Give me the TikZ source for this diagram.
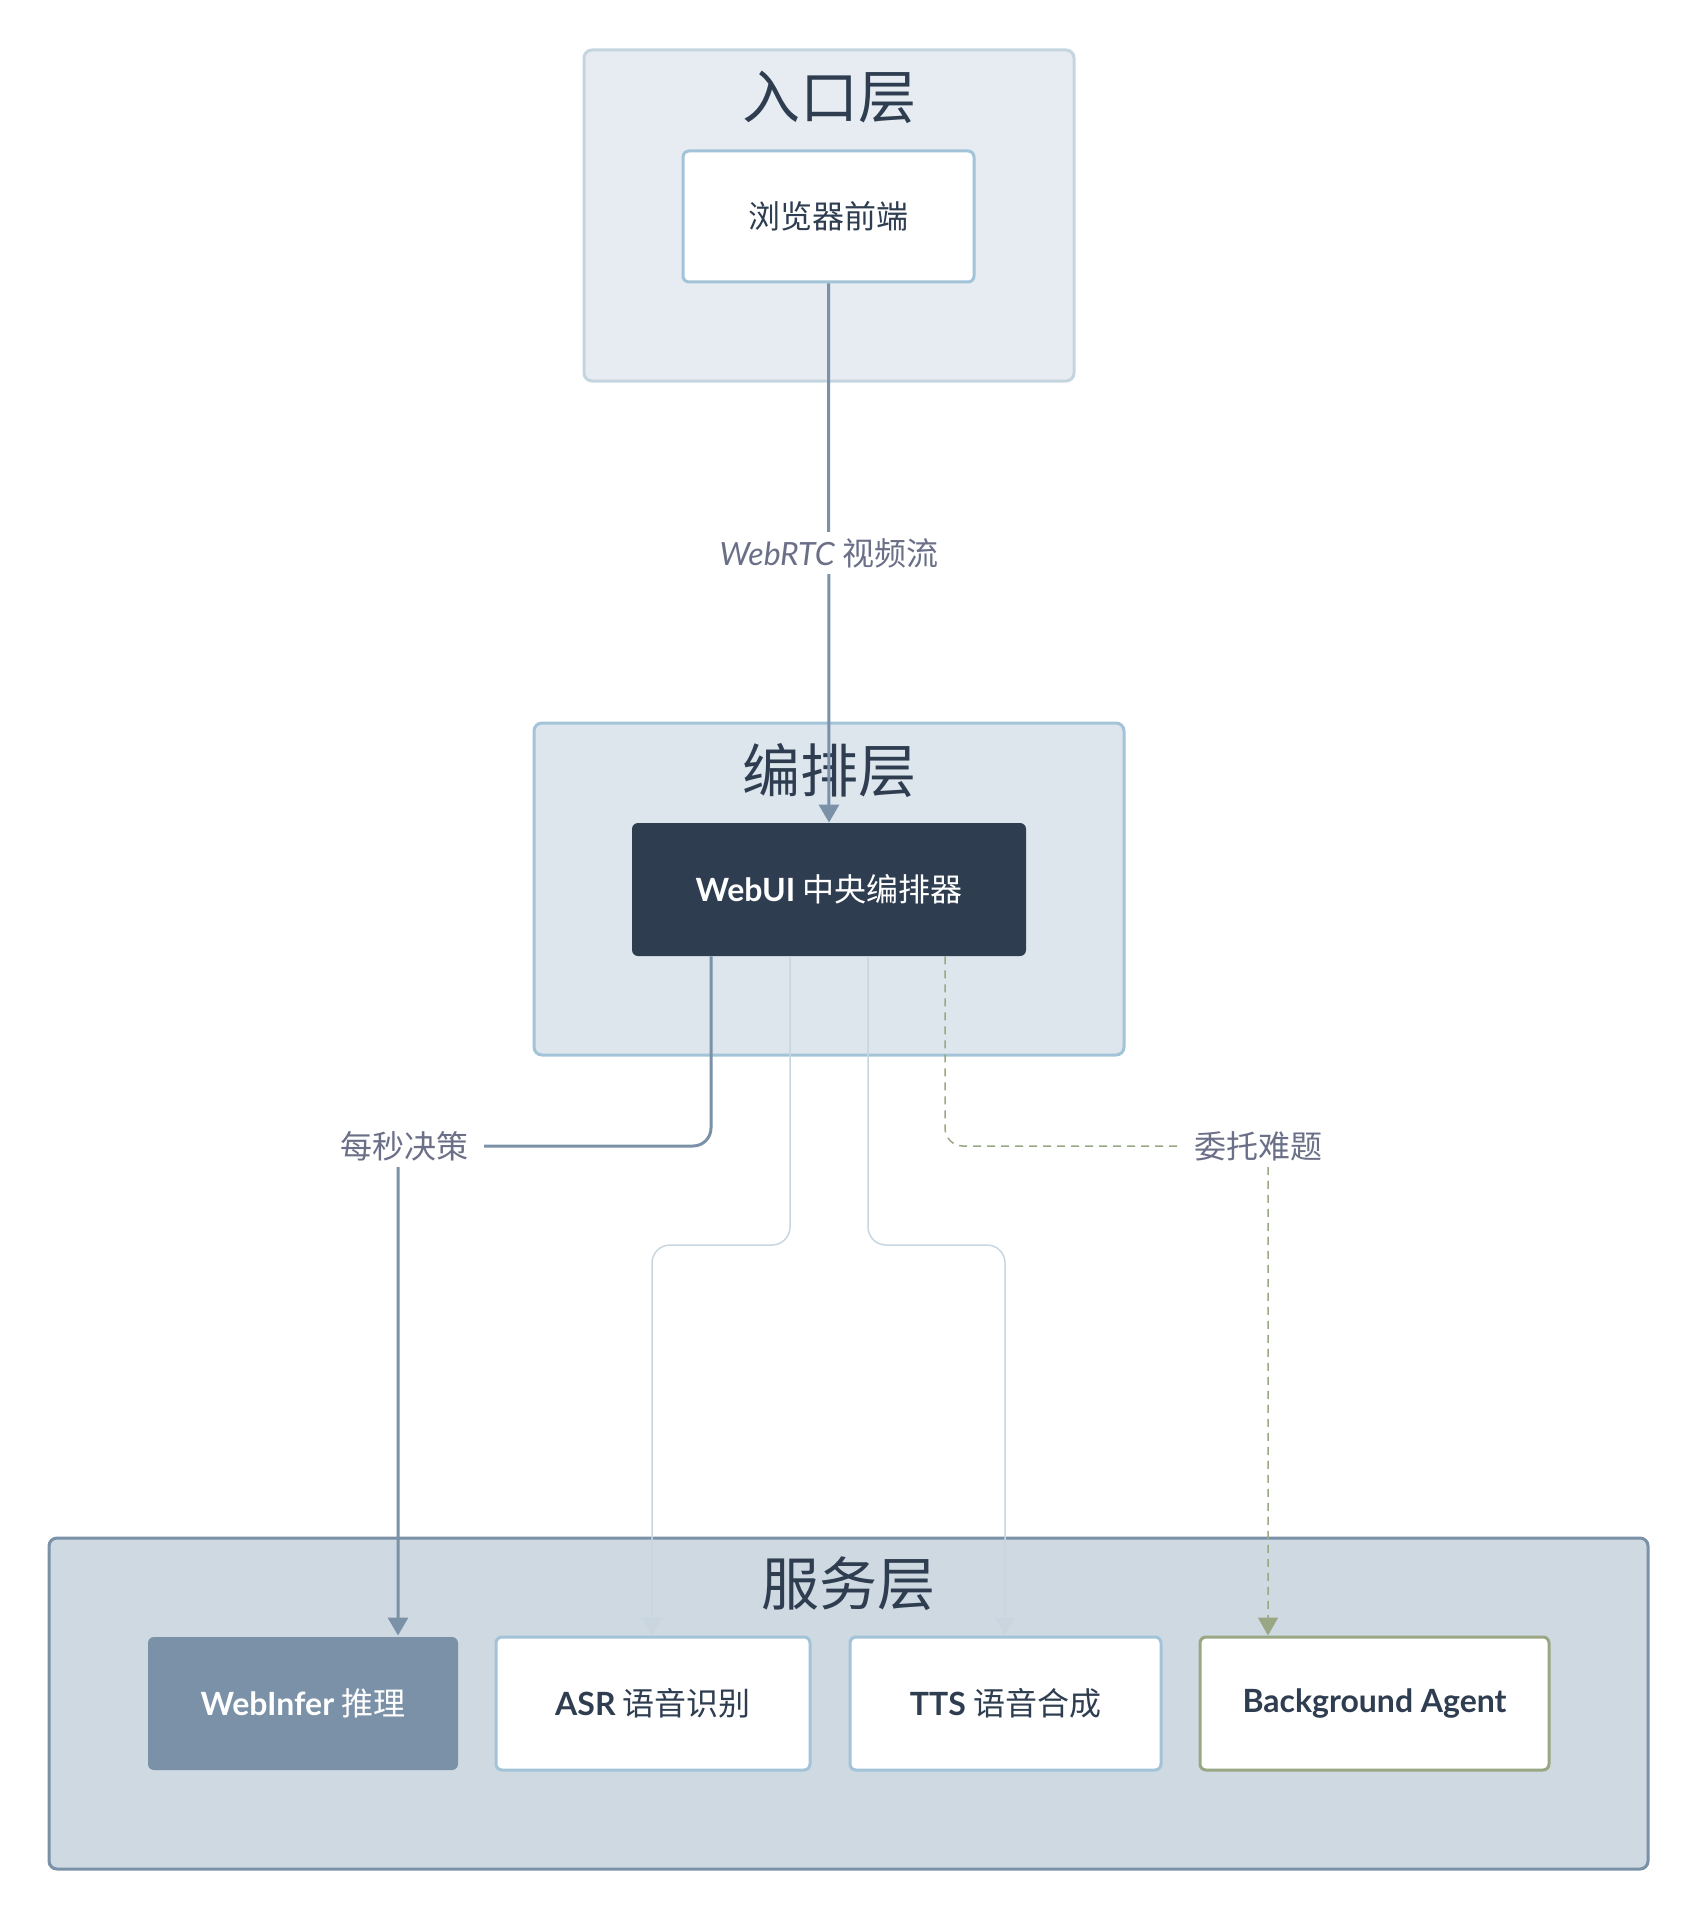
\documentclass[tikz,border=0pt]{standalone}
\usepackage{fontspec}
\setmainfont{Noto Sans CJK SC}
\newfontfamily\latfont{Lato}
\usetikzlibrary{arrows.meta}
\definecolor{ink}{HTML}{2E3D50}
\definecolor{lblc}{HTML}{6B7088}
\definecolor{steel}{HTML}{7A91A8}
\definecolor{pale}{HTML}{C9D6E0}
\definecolor{sage}{HTML}{9AA784}
\definecolor{entryfill}{HTML}{E6ECF1}
\definecolor{entryborder}{HTML}{C5D5E0}
\definecolor{orchfill}{HTML}{DDE5ED}
\definecolor{skyborder}{HTML}{A3C4D8}
\definecolor{servfill}{HTML}{CFD9E2}
\newcommand{\lb}[1]{{\latfont\bfseries #1}}
\tikzset{
  layerbox/.style={draw, line width=1.5pt, rounded corners=4pt},
  layertitle/.style={text=ink, font=\fontsize{29}{33}\selectfont},
  whitebox/.style={draw=skyborder, fill=white, line width=1.5pt, rounded corners=3pt, text=ink},
  svcbox/.style={line width=1.5pt, rounded corners=3pt, minimum height=66.5pt, font=\fontsize{16}{19}\selectfont},
  lbl/.style={fill=white, text=lblc, font=\fontsize{16}{19}\selectfont, inner xsep=8pt, inner ysep=3pt},
  mainarrow/.style={draw=steel, line width=1.5pt, -{Triangle[length=9pt,width=10pt]}},
  palearrow/.style={draw=pale, line width=0.75pt, -{Triangle[length=9pt,width=10pt]}},
  delegarrow/.style={draw=sage, line width=0.75pt, dash pattern=on 4pt off 3pt, -{Triangle[length=9pt,width=10pt]}},
}
\begin{document}
\begin{tikzpicture}[x=0.5pt,y=-0.5pt]
\path[use as bounding box] (0,0) rectangle (1698,1920);

% Entry layer
\node[layerbox, draw=entryborder, fill=entryfill, minimum width=245pt, minimum height=165.5pt] (entry) at (829,215.5) {};
\node[layertitle] (entrytitle) at (829,97) {入口层};
\node[whitebox, minimum width=145.5pt, minimum height=65.5pt, font=\fontsize{16}{19}\selectfont] (browser) at (828.5,216.5) {浏览器前端};

% Orchestration layer
\node[layerbox, draw=skyborder, fill=orchfill, minimum width=295pt, minimum height=166pt] (orch) at (829,889) {};
\node[layertitle] (orchtitle) at (829,771) {编排层};
\node[fill=ink, text=white, rounded corners=3pt, minimum width=197pt, minimum height=66.5pt, font=\fontsize{16}{19}\selectfont] (webui) at (829,889.5) {\lb{WebUI} 中央编排器};

% Service layer
\node[layerbox, draw=steel, fill=servfill, minimum width=799.5pt, minimum height=165.5pt] (serv) at (848.5,1703.5) {};
\node[layertitle] (servtitle) at (848,1584) {服务层};
\node[svcbox, fill=steel, text=white, minimum width=155pt] (webinfer) at (303,1703.5) {\lb{WebInfer} 推理};
\node[svcbox, draw=skyborder, fill=white, text=ink, minimum width=157pt] (asr) at (653,1703.5) {\lb{ASR} 语音识别};
\node[svcbox, draw=skyborder, fill=white, text=ink, minimum width=155.5pt] (tts) at (1005.5,1703.5) {\lb{TTS} 语音合成};
\node[svcbox, draw=sage, fill=white, text=ink, minimum width=174.5pt] (bg) at (1374.5,1703.5) {\lb{Background Agent}};

% Connectors
\draw[mainarrow] (browser.south) -- node[lbl] (rtc) {{\latfont\itshape WebRTC} 视频流} (webui.north);

\coordinate (tA) at (711,1146);
\coordinate (cA) at (398,1146);
\draw[mainarrow, rounded corners=9pt] (webui.south -| tA) -- (tA) -- (cA) -- (webinfer.north -| cA);
\node[lbl] (dec) at (404,1146) {每秒决策};

\coordinate (tB) at (790,1245);
\coordinate (cB) at (652,1245);
\draw[palearrow, rounded corners=9pt] (webui.south -| tB) -- (tB) -- (cB) -- (asr.north -| cB);

\coordinate (tC) at (868,1245);
\coordinate (cC) at (1005,1245);
\draw[palearrow, rounded corners=9pt] (webui.south -| tC) -- (tC) -- (cC) -- (tts.north -| cC);

\coordinate (tD) at (945,1146);
\coordinate (cD) at (1268,1146);
\draw[delegarrow, rounded corners=9pt] (webui.south -| tD) -- (tD) -- (cD) -- (bg.north -| cD);
\node[lbl] (deleg) at (1258,1146) {委托难题};
\end{tikzpicture}
\end{document}
